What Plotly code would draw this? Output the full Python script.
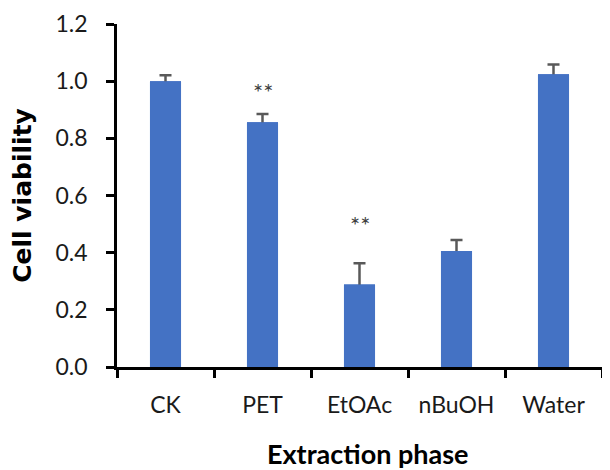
import plotly.graph_objects as go

categories = ["CK", "PET", "EtOAc", "nBuOH", "Water"]
viability = [1.0, 0.856, 0.289, 0.406, 1.024]
errors = [0.021, 0.029, 0.074, 0.038, 0.034]
significance = ["", "**", "**", "", ""]
significance_y = [None, 0.965, 0.50, None, None]
y_ticks = [0.0, 0.2, 0.4, 0.6, 0.8, 1.0, 1.2]
y_tick_labels = ["0.0", "0.2", "0.4", "0.6", "0.8", "1.0", "1.2"]

BAR = "#4472C4"
ERR = "#595959"

fig = go.Figure()
# error bars (drawn first, bars drawn on top hide lower half)
fig.add_trace(go.Bar(
    x=categories, y=viability, marker=dict(color=BAR, line=dict(width=0)),
    error_y=dict(type="data", array=errors, visible=True, color=ERR,
                 thickness=2.5, width=6),
    width=0.32, showlegend=False, hoverinfo="skip",
))
fig.add_trace(go.Bar(
    x=categories, y=viability, marker=dict(color=BAR, line=dict(width=0)),
    width=0.32, showlegend=False,
))

for c, sy, s in zip(categories, significance_y, significance):
    if s:
        fig.add_annotation(x=c, y=sy, text=s, showarrow=False,
                           font=dict(family="Lato", size=24, color="#404040"))

fig.add_annotation(text="<b>Extraction phase</b>", xref="paper", yref="paper",
                   x=0.518, y=0, xanchor="center", yanchor="top", yshift=-68,
                   showarrow=False, font=dict(family="Lato", size=27, color="black"))

fig.update_layout(
    width=602, height=462,
    margin=dict(l=109, r=8, t=16, b=103),
    paper_bgcolor="white", plot_bgcolor="white",
    barmode="overlay",
    font=dict(family="Lato", color="#1a1a1a"),
    xaxis=dict(
        automargin=False,
        showline=True, linecolor="black", linewidth=2.5,
        ticks="outside", tickson="boundaries", ticklen=8, tickwidth=2.5, tickcolor="black",
        tickfont=dict(family="Lato", size=23, color="#1a1a1a"),
        ticklabelstandoff=16,
        showgrid=False, zeroline=False,
    ),
    yaxis=dict(
        automargin=False,
        range=[0, 1.2], tickvals=y_ticks, ticktext=y_tick_labels,
        showline=True, linecolor="black", linewidth=2.5,
        ticks="outside", ticklen=8, tickwidth=2.5, tickcolor="black",
        tickfont=dict(family="Lato", size=23, color="#1a1a1a"),
        ticklabelstandoff=14,
        title=dict(text="<b>Cell viability</b>", standoff=22,
                   font=dict(family="DejaVu Sans", size=25, color="black")),
        showgrid=False, zeroline=False,
    ),
)

fig.write_html("out.html")
